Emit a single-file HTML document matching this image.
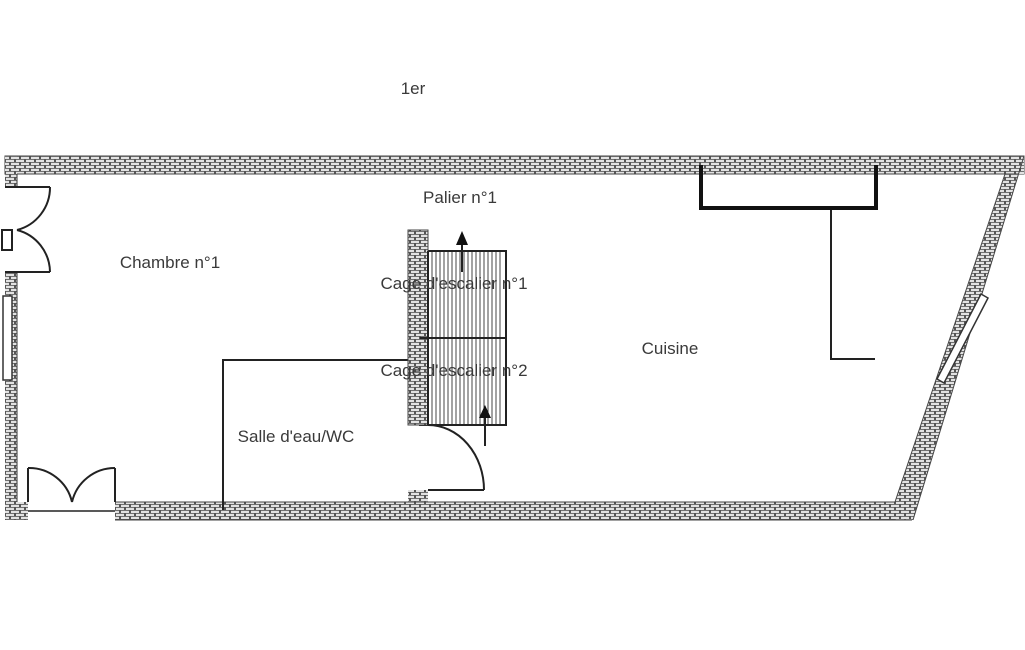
<!DOCTYPE html>
<html><head><meta charset="utf-8"><style>
html,body{margin:0;padding:0;background:#fff;}
svg{display:block;}
text{font-family:"Liberation Sans",sans-serif;font-size:17px;fill:#3a3a3a;}
</style></head><body>
<svg width="1025" height="650" viewBox="0 0 1025 650" xmlns="http://www.w3.org/2000/svg">
<defs>
<pattern id="b" width="10" height="6" patternUnits="userSpaceOnUse">
<rect width="10" height="6" fill="#555"/>
<rect x="1" y="0.8" width="8" height="2.2" fill="#e2e2e2"/>
<rect x="6" y="3.8" width="8" height="2.2" fill="#e2e2e2"/>
<rect x="-4" y="3.8" width="8" height="2.2" fill="#e2e2e2"/>
</pattern>
</defs>
<!-- top wall -->
<rect x="5" y="156" width="1019" height="18" fill="url(#b)" stroke="#444" stroke-width="1"/>
<!-- left wall segments -->
<rect x="5" y="156" width="12" height="30" fill="url(#b)"/>
<rect x="5" y="272" width="12" height="248" fill="url(#b)"/>
<line x1="17" y1="174" x2="17" y2="186" stroke="#333"/>
<line x1="17" y1="272" x2="17" y2="502" stroke="#333"/>
<rect x="3" y="296" width="9" height="84" fill="#fff" stroke="#333" stroke-width="1.5"/>
<!-- bottom wall -->
<rect x="5" y="502" width="23" height="18" fill="url(#b)"/>
<rect x="115" y="502" width="797" height="18" fill="url(#b)"/>
<line x1="115" y1="502" x2="900" y2="502" stroke="#444"/>
<line x1="115" y1="520" x2="912" y2="520" stroke="#444"/>
<!-- right slanted wall -->
<polygon points="1024,156 913,520 895,520 895,502 1005,174 1024,174" fill="url(#b)"/>
<line x1="1024" y1="156" x2="913" y2="520" stroke="#444"/>
<line x1="1005" y1="174" x2="895" y2="502" stroke="#444"/>
<polygon points="981,294 988,298 944,383 937,379" fill="#fff" stroke="#333" stroke-width="1.5"/>
<!-- left doors -->
<g fill="none" stroke="#222" stroke-width="2">
<line x1="5" y1="187" x2="50" y2="187"/>
<path d="M50,187 A44,44 0 0 1 17,230"/>
<line x1="5" y1="272" x2="50" y2="272"/>
<path d="M50,272 A44,44 0 0 0 17,230"/>
<rect x="2" y="230" width="10" height="20" fill="#fff"/>
<line x1="28" y1="502" x2="28" y2="468"/>
<path d="M28,468 A44,44 0 0 1 72,502"/>
<line x1="115" y1="502" x2="115" y2="468"/>
<path d="M115,468 A44,44 0 0 0 72,502"/>
<line x1="28" y1="511" x2="115" y2="511" stroke-width="1.5"/>
</g>
<g fill="none" stroke="#222" stroke-width="2">
<polyline points="408,360 223,360 223,510"/>
<polyline points="831,208 831,359 875,359"/>
</g>
<polyline points="701,165 701,208 876,208 876,165" fill="none" stroke="#111" stroke-width="4"/>
<!-- stairs -->
<rect x="420" y="251" width="86" height="174" fill="#fff" stroke="#222" stroke-width="2"/>
<g stroke="#444" stroke-width="1">
<line x1="432" y1="252" x2="432" y2="424"/><line x1="436" y1="252" x2="436" y2="424"/><line x1="440" y1="252" x2="440" y2="424"/><line x1="444" y1="252" x2="444" y2="424"/><line x1="448" y1="252" x2="448" y2="424"/><line x1="452" y1="252" x2="452" y2="424"/><line x1="456" y1="252" x2="456" y2="424"/><line x1="460" y1="252" x2="460" y2="424"/><line x1="464" y1="252" x2="464" y2="424"/><line x1="468" y1="252" x2="468" y2="424"/><line x1="472" y1="252" x2="472" y2="424"/><line x1="476" y1="252" x2="476" y2="424"/><line x1="480" y1="252" x2="480" y2="424"/><line x1="484" y1="252" x2="484" y2="424"/><line x1="488" y1="252" x2="488" y2="424"/><line x1="492" y1="252" x2="492" y2="424"/><line x1="496" y1="252" x2="496" y2="424"/><line x1="500" y1="252" x2="500" y2="424"/>
</g>
<rect x="408" y="230" width="20" height="195" fill="url(#b)" stroke="#444"/>
<rect x="408" y="490" width="20" height="12" fill="url(#b)"/>
<line x1="428" y1="251" x2="428" y2="425" stroke="#222" stroke-width="2"/>
<line x1="420" y1="338" x2="506" y2="338" stroke="#222" stroke-width="2"/>
<line x1="462" y1="245" x2="462" y2="272" stroke="#222" stroke-width="2"/>
<polygon points="456,245 468,245 462,231" fill="#111"/>
<line x1="485" y1="418" x2="485" y2="446" stroke="#222" stroke-width="2"/>
<polygon points="479,418 491,418 485,405" fill="#111"/>
<path d="M428,425 A56,65 0 0 1 484,490" fill="none" stroke="#222" stroke-width="2"/>
<line x1="428" y1="490" x2="484" y2="490" stroke="#222" stroke-width="2"/>
<text x="413" y="94" text-anchor="middle">1er</text>
<text x="460" y="203" text-anchor="middle">Palier n°1</text>
<text x="170" y="268" text-anchor="middle">Chambre n°1</text>
<text x="454" y="289" text-anchor="middle">Cage d'escalier n°1</text>
<text x="454" y="376" text-anchor="middle">Cage d'escalier n°2</text>
<text x="670" y="354" text-anchor="middle">Cuisine</text>
<text x="296" y="442" text-anchor="middle">Salle d'eau/WC</text>
</svg>
</body></html>
